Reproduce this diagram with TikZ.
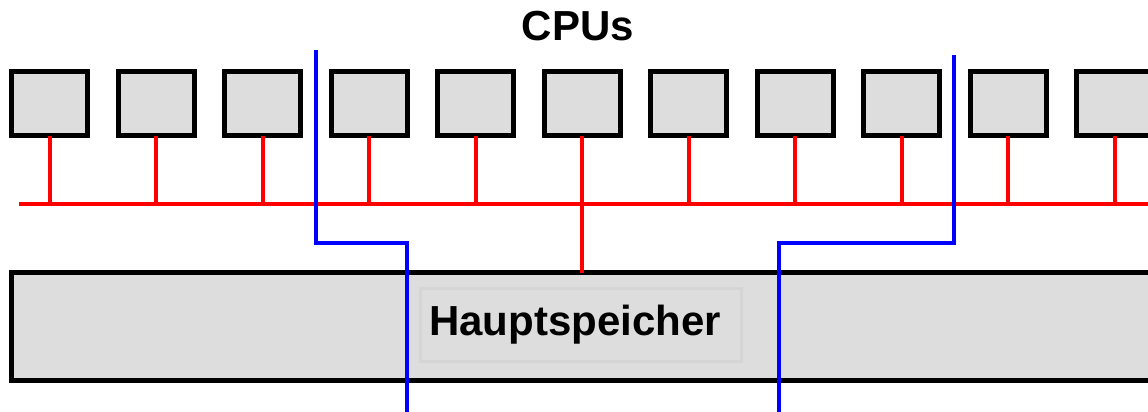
\documentclass[tikz,border=0pt]{standalone}
\usepackage{fontspec}
\setmainfont{Liberation Sans}
\definecolor{boxgray}{RGB}{221,221,221}
\definecolor{labelgray}{RGB}{213,213,213}
\definecolor{busred}{RGB}{255,0,0}
\definecolor{cutblue}{RGB}{0,0,255}
\begin{document}
\begin{tikzpicture}[x=1pt,y=-1pt,
  cpu/.style={draw=black, line width=5pt, fill=boxgray, minimum width=76pt, minimum height=64pt, inner sep=0pt, outer sep=0pt},
  membox/.style={draw=black, line width=5pt, fill=boxgray, minimum width=1150pt, minimum height=108pt, inner sep=0pt, outer sep=0pt, anchor=north west},
  labelbox/.style={draw=labelgray, line width=3pt, fill=boxgray, minimum width=321pt, minimum height=73pt, inner sep=0pt},
  title/.style={font=\fontsize{42}{42}\selectfont\bfseries, inner sep=0pt, anchor=base},
  bus/.style={draw=busred, line width=4pt},
  cut/.style={draw=cutblue, line width=4pt, miter limit=10}]
\useasboundingbox (0,0) rectangle (1148,412);
% CPUs
\foreach \i in {0,...,10} {
  \node[cpu] (c\i) at ({49.5+106.5*\i},103.5) {};
}
\node[title] (cpus) at (578,41) {CPUs};
% memory
\node[membox] (mem) at (11.5,272.5) {};
\node[labelbox] (lab) at (581,325) {};
\node[title] (labtxt) at (575,335) {Hauptspeicher};
% bus
\coordinate (busL) at (19,204);
\coordinate (busR) at (1148,204);
\draw[bus] (busL) -- (busR);
\foreach \i in {0,...,10} {
  \draw[bus] (c\i.south) -- (c\i.south |- busL);
}
\draw[bus] (c5.south |- busL) -- (c5.south |- mem.north);
% cut lines
\coordinate (b1top) at (316,50);
\coordinate (b1mid) at (316,243);
\coordinate (b1mid2) at (407,243);
\coordinate (b1bot) at (407,412);
\draw[cut] (b1top) -- (b1mid) -- (b1mid2) -- (b1bot);
\coordinate (b2top) at (954,55);
\coordinate (b2mid) at (954,243);
\coordinate (b2mid2) at (779,243);
\coordinate (b2bot) at (779,412);
\draw[cut] (b2top) -- (b2mid) -- (b2mid2) -- (b2bot);
\end{tikzpicture}
\end{document}
